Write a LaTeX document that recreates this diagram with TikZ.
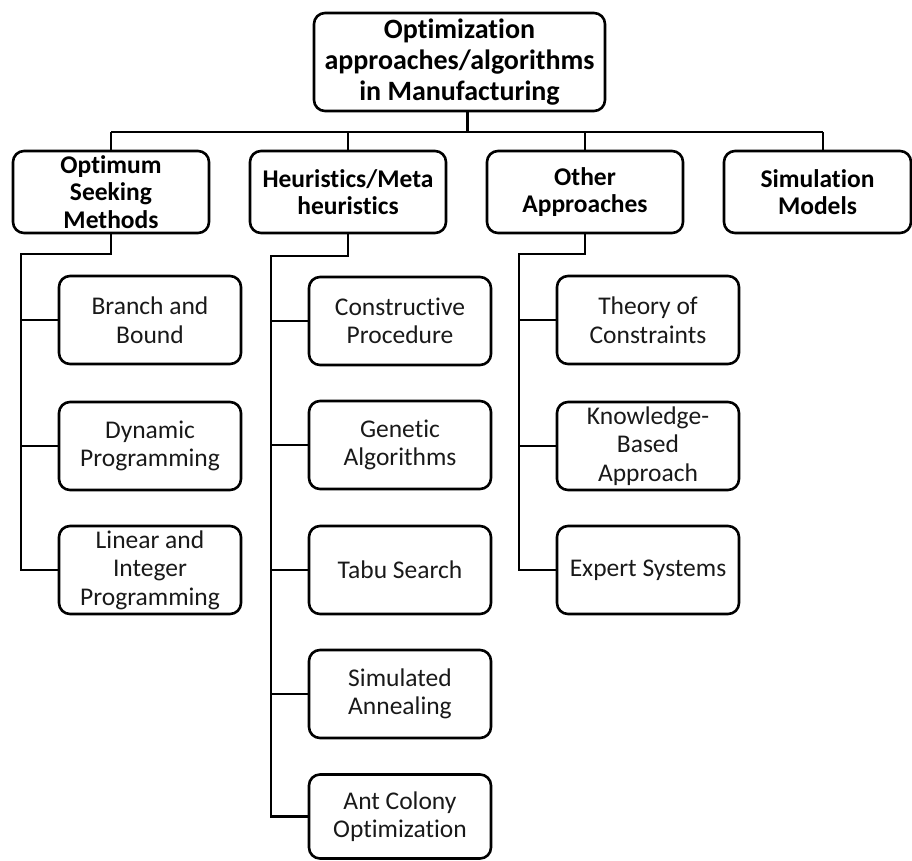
\documentclass[tikz,border=0pt]{standalone}
\usepackage{fontspec}
\setmainfont{Carlito}[Ligatures={NoCommon}]
\begin{document}
\begin{tikzpicture}[x=1pt,y=-1pt,
  box/.style={draw, line width=2.6pt, rounded corners=11pt, align=center,
    inner sep=0pt, text=black},
  rootbox/.style={box, minimum width=291pt, minimum height=98pt,
    font=\fontsize{28}{31}\selectfont\bfseries},
  catbox/.style={box, minimum width=196pt, minimum height=82pt,
    font=\fontsize{25.5}{27.5}\selectfont\bfseries},
  leafbox/.style={box, minimum width=182pt, minimum height=88pt,
    font=\fontsize{25.5}{28.5}\selectfont, text=black!90},
  link/.style={line width=2.8pt}
]
\useasboundingbox (0,0) rectangle (912,860);

% root
\node[rootbox] (root) at (459.5,62) {Optimization\\approaches/algorithms\\in Manufacturing};

% categories
\node[catbox] (opt)   at (111,192) {Optimum\\Seeking\\Methods};
\node[catbox] (heu)   at (348,192) {Heuristics/Meta\\heuristics};
\node[catbox] (oth)   at (585,192) {Other\\Approaches};
\node[catbox, minimum width=187pt] (sim) at (817.5,192) {Simulation\\Models};

% optimum seeking methods
\node[leafbox] (bb)  at (150,320) {Branch and\\Bound};
\node[leafbox] (dp)  at (150,446) {Dynamic\\Programming};
\node[leafbox] (lin) at (150,570) {Linear and\\Integer\\Programming};

% heuristics / metaheuristics
\node[leafbox] (con) at (400,321) {Constructive\\Procedure};
\node[leafbox] (gen) at (400,445) {Genetic\\Algorithms};
\node[leafbox] (tab) at (400,570) {Tabu Search};
\node[leafbox] (sa)  at (400,694) {Simulated\\Annealing};
\node[leafbox, minimum height=84pt] (ant) at (400,816.5) {Ant Colony\\Optimization};

% other approaches
\node[leafbox] (toc) at (648,320) {Theory of\\Constraints};
\node[leafbox] (kba) at (648,446) {Knowledge-\\Based\\Approach};
\node[leafbox] (exp) at (648,570) {Expert Systems};

% top-level bus
\coordinate (bus) at (0,132);
\coordinate (simdrop) at (823,132);
\draw[link] ([xshift=8pt]root.south) -- ([xshift=8pt]root.south |- bus);
\draw[link] (opt.north |- bus) -- (simdrop);
\draw[link] (opt.north |- bus) -- (opt.north);
\draw[link] (heu.north |- bus) -- (heu.north);
\draw[link] (oth.north |- bus) -- (oth.north);
\draw[link] (simdrop) -- (simdrop |- sim.north);

% column spines
\coordinate (c1) at (21,254);
\coordinate (c2) at (271,256);
\coordinate (c3) at (519,254);

\draw[link] (opt.south) |- (c1) -- (c1 |- lin.west) -- (lin.west);
\draw[link] (bb.west -| c1) -- (bb.west);
\draw[link] (dp.west -| c1) -- (dp.west);

\draw[link] (heu.south) |- (c2) -- (c2 |- ant.west) -- (ant.west);
\draw[link] (con.west -| c2) -- (con.west);
\draw[link] (gen.west -| c2) -- (gen.west);
\draw[link] (tab.west -| c2) -- (tab.west);
\draw[link] (sa.west -| c2) -- (sa.west);

\draw[link] (oth.south) |- (c3) -- (c3 |- exp.west) -- (exp.west);
\draw[link] (toc.west -| c3) -- (toc.west);
\draw[link] (kba.west -| c3) -- (kba.west);
\end{tikzpicture}
\end{document}
